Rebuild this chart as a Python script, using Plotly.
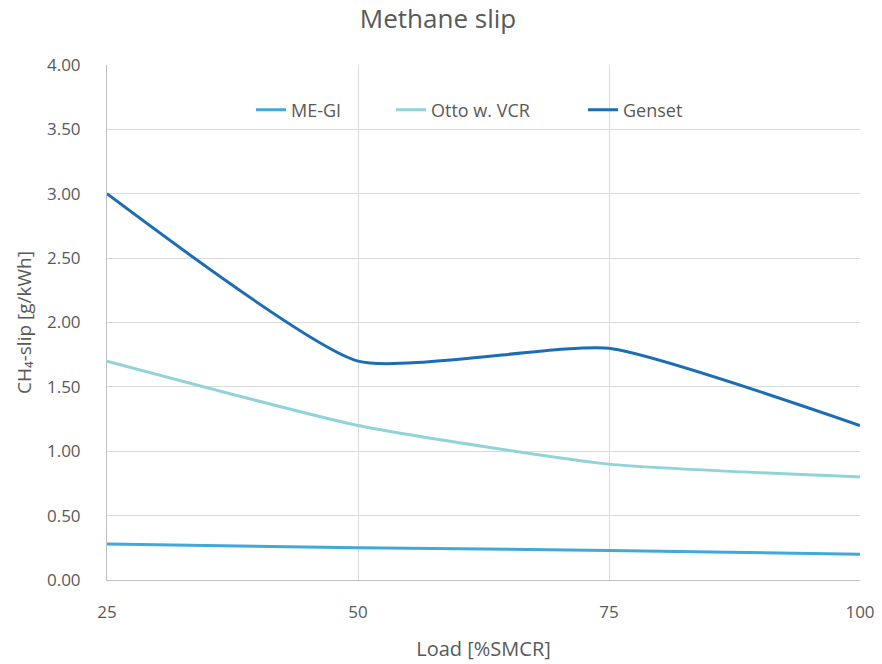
import plotly.graph_objects as go

load = [25, 50, 75, 100]
me_gi = [0.28, 0.25, 0.23, 0.20]
otto_vcr = [1.70, 1.20, 0.90, 0.80]
genset = [3.00, 1.70, 1.80, 1.20]

y_ticks = [0, 0.5, 1.0, 1.5, 2.0, 2.5, 3.0, 3.5, 4.0]
y_tick_labels = ["0.00", "0.50", "1.00", "1.50", "2.00", "2.50", "3.00", "3.50", "4.00"]
x_ticks = [25, 50, 75, 100]

font_family = "'Open Sans', sans-serif"
text_color = "#595959"

W, H = 882, 664
L, T = 107, 65
R = W - 860
B = H - 580
pw = W - L - R
ph = H - T - B

fig = go.Figure()
series = [
    ("ME-GI", me_gi, "#41a9d9", "legend", 292),
    ("Otto w. VCR", otto_vcr, "#90d3d8", "legend2", 432),
    ("Genset", genset, "#1c6db7", "legend3", 624),
]
legends = {}
for name, vals, color, lg, text_px in series:
    fig.add_trace(go.Scatter(
        x=load, y=vals, name=name, mode="lines", legend=lg,
        line=dict(color=color, width=3, shape="spline", smoothing=0.5),
    ))
    left = text_px - 41
    legends[lg] = dict(
        x=(left - L) / pw, xanchor="left",
        y=((H - B) - 110) / ph, yanchor="middle",
        bgcolor="rgba(0,0,0,0)", font=dict(family=font_family, size=18, color=text_color),
    )

fig.update_layout(
    width=W, height=H,
    paper_bgcolor="white", plot_bgcolor="white",
    margin=dict(l=L, r=R, t=T, b=B, autoexpand=False),
    title=dict(text="Methane slip", x=438 / W, xanchor="center",
               y=1 - 19 / H, yanchor="middle",
               font=dict(family=font_family, size=26, color=text_color)),
    font=dict(family=font_family, size=17, color=text_color),
    showlegend=True,
    **legends,
)
fig.update_xaxes(
    range=[25, 100], tickvals=x_ticks, ticktext=[str(v) for v in x_ticks],
    showgrid=True, gridcolor="#d9d9d9", gridwidth=1,
    showline=True, linecolor="#bfbfbf", linewidth=1,
    zeroline=False, ticks="", ticklabelstandoff=17, automargin=False,
    title=dict(text="Load [%SMCR]", standoff=19, font=dict(size=20, color=text_color)),
    tickfont=dict(size=17, color=text_color),
)
fig.update_yaxes(
    range=[0, 4], tickvals=y_ticks, ticktext=y_tick_labels,
    showgrid=True, gridcolor="#d9d9d9", gridwidth=1,
    showline=True, linecolor="#bfbfbf", linewidth=1,
    zeroline=False, ticks="", ticklabelstandoff=22, automargin=False,
    title=dict(text="CH₄-slip [g/kWh]", standoff=10, font=dict(size=19, color=text_color)),
    tickfont=dict(size=17, color=text_color),
)

fig.write_html("out.html", config={"displayModeBar": False},
               post_script="document.body.style.margin='0px';")
